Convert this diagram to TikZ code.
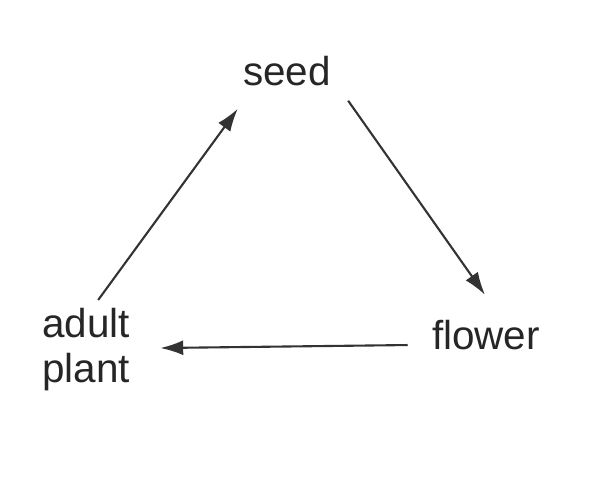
\documentclass[tikz,border=0pt]{standalone}
\usepackage{fontspec}
\setmainfont{Liberation Sans}
\usetikzlibrary{arrows.meta, positioning}
\tikzset{
    stage/.style={inner sep=0pt, font=\fontsize{23}{26}\selectfont, text=black!85},
    cyclearrow/.style={line width=1.2pt, black!80, -{Latex[length=13pt, width=8.5pt]}}
}
\begin{document}
\begin{tikzpicture}
    % Frame with the reference margins
    \useasboundingbox (0,0) rectangle (12,9.54);

    % Life cycle stages
    \node[stage, anchor=base] (seed) at (5.74,7.82) {seed};
    \node[stage, anchor=base] (flower) at (9.72,2.54) {flower};
    \node[stage, anchor=north west, align=left] (adult) at (0.84,3.39) {adult\\plant};

    % Arrows round the cycle
    \draw[cyclearrow] ([shift={(0.24,0.15)}]adult.north) -- ([shift={(-0.10,-0.44)}]seed.south west);
    \draw[cyclearrow] ([shift={(0.34,-0.28)}]seed.south east) -- ([shift={(-0.02,0.51)}]flower.north);
    \draw[cyclearrow] ([shift={(-0.48,-0.19)}]flower.west) -- ([shift={(0.60,0.03)}]adult.east);
\end{tikzpicture}
\end{document}
